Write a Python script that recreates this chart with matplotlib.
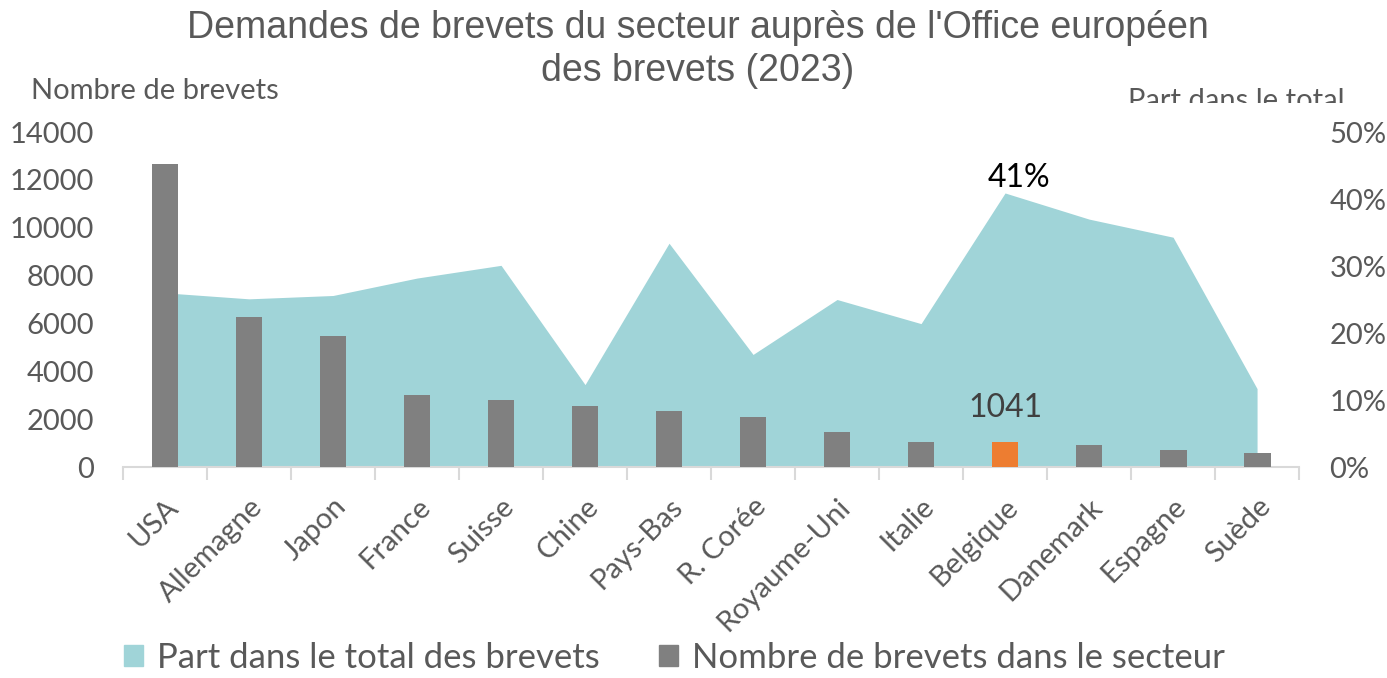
import matplotlib
matplotlib.use("Agg")
import matplotlib.pyplot as plt
from matplotlib.patches import Patch
from matplotlib.transforms import Bbox
from matplotlib.ticker import FuncFormatter
import numpy as np

pays = ["USA", "Allemagne", "Japon", "France", "Suisse", "Chine", "Pays-Bas",
        "R. Corée", "Royaume-Uni", "Italie", "Belgique", "Danemark", "Espagne", "Suède"]
nombre = [12660, 6270, 5490, 3010, 2810, 2540, 2320, 2080, 1450, 1040, 1041, 920, 690, 575]
part = [26.0, 25.1, 25.6, 28.2, 30.1, 12.3, 33.4, 16.8, 25.0, 21.4, 40.9, 37.0, 34.3, 11.7]
highlight = "Belgique"
titre = ["Demandes de brevets du secteur auprès de l'Office européen", "des brevets (2023)"]

TEAL = "#A0D4D8"
GRAY = "#808080"
ORANGE = "#ED7D31"
TXT = "#595959"
FONT = "Lato"

fig = plt.figure(figsize=(13.87, 6.78), dpi=100)
ax = fig.add_axes([0.0887, 0.3112, 0.8479, 0.4941])
ax2 = ax.twinx()

x = np.arange(len(pays))

# area on the right axis, drawn behind the bars
ax2.fill_between(x, part, 0, color=TEAL, lw=0, zorder=1)
ax2.set_ylim(0, 50)
ax2.set_yticks([0, 10, 20, 30, 40, 50])
ax2.yaxis.set_major_formatter(FuncFormatter(lambda v, p: f"{v:.0f}%"))

ax.set_zorder(ax2.get_zorder() + 1)
ax.patch.set_visible(False)
colors = [ORANGE if p == highlight else GRAY for p in pays]
ax.bar(x, nombre, width=0.32, color=colors, zorder=3)
ax.set_ylim(0, 14000)
ax.set_yticks(range(0, 14001, 2000))
ax.set_xlim(-0.5, len(pays) - 0.5)

ax.set_xticks(x)
ax.set_xticklabels(pays, rotation=45, ha="right", rotation_mode="anchor")
ax.set_xticks(np.arange(-0.5, len(pays)), minor=True)
ax.tick_params(axis="x", which="major", length=0, pad=19, labelsize=21, labelcolor=TXT)
ax.tick_params(axis="x", which="minor", length=9, width=1.5, color="#D9D9D9")
ax.tick_params(axis="y", length=0, pad=21, labelsize=21, labelcolor=TXT)
ax2.tick_params(axis="y", length=0, pad=22, labelsize=21, labelcolor=TXT)

for a in (ax, ax2):
    for s in a.spines.values():
        s.set_visible(False)
    for lab in a.get_xticklabels() + a.get_yticklabels():
        lab.set_fontfamily(FONT)
ax.spines["bottom"].set_visible(True)
ax.spines["bottom"].set_color("#D9D9D9")
ax.spines["bottom"].set_linewidth(1.5)

# labels for the highlighted country
i = pays.index(highlight)
ax.annotate(f"{nombre[i]}", (x[i], nombre[i]), xytext=(0, 14), textcoords="offset points",
            ha="center", va="bottom", fontsize=23, color="#404040", fontfamily=FONT)
ax2.annotate(f"{part[i]:.0f}%", (x[i], part[i]), xytext=(10, 0), textcoords="offset points",
             ha="center", va="bottom", fontsize=23, color="black", fontfamily=FONT)

# title, one line at a time
fig.text(0.503, 0.958, titre[0], ha="center", va="center", fontsize=27,
         color=TXT, fontfamily="Liberation Sans")
fig.text(0.503, 0.896, titre[1], ha="center", va="center", fontsize=27,
         color=TXT, fontfamily="Liberation Sans")
fig.text(0.022, 0.866, "Nombre de brevets", ha="left", va="center", fontsize=21,
         color=TXT, fontfamily=FONT)
t = fig.text(0.813, 0.851, "Part dans le total", ha="left", va="center", fontsize=21,
             color=TXT, fontfamily=FONT)
t.set_clip_box(Bbox.from_extents(0, 678 - 103, 1387, 678))
t.set_clip_on(True)

handles = [Patch(color=TEAL, label="Part dans le total des brevets"),
           Patch(color=GRAY, label="Nombre de brevets dans le secteur")]
leg = fig.legend(handles=handles, loc="center", bbox_to_anchor=(0.486, 0.03), ncol=2,
                 frameon=False, handlelength=0.55, handleheight=0.55, handletextpad=0.4,
                 columnspacing=1.7, prop={"family": FONT, "size": 25})
for txt in leg.get_texts():
    txt.set_color(TXT)

fig.savefig("out.png", dpi=100)
